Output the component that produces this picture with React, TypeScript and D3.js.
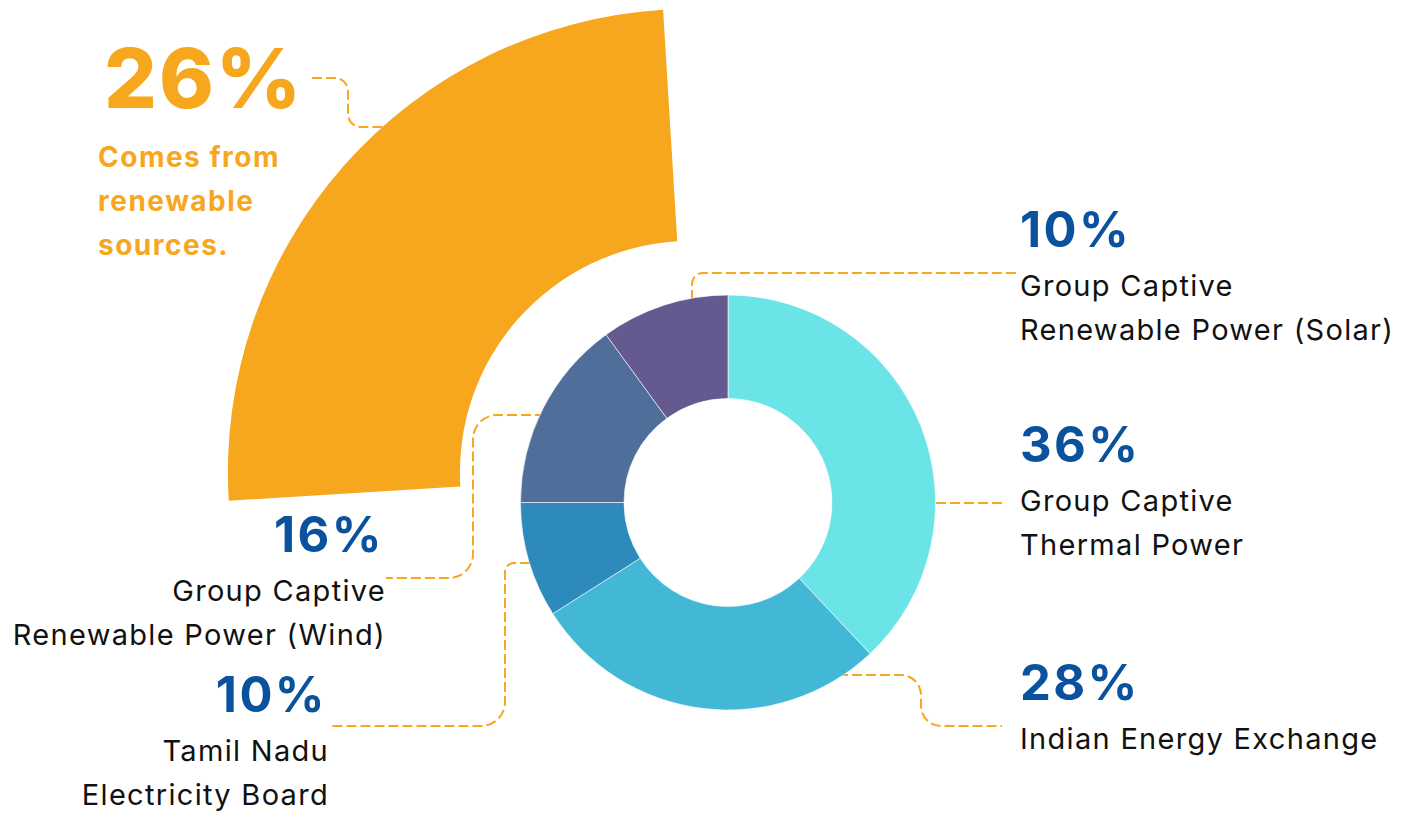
import React, { useEffect, useRef } from "react";
import * as d3 from "d3";

const sources = [
  "Group Captive Thermal Power",
  "Indian Energy Exchange",
  "Tamil Nadu Electricity Board",
  "Group Captive Renewable Power (Wind)",
  "Group Captive Renewable Power (Solar)",
];
const sliceValues = [38, 28, 9, 15, 10];
const shareLabels = ["36%", "28%", "10%", "16%", "10%"];
const sliceColors = ["#6be4e8", "#43b7d6", "#2d8aba", "#4f6e99", "#645a8f"];

// the renewable arc behind the donut
const renewableValues = [25, 75];
const renewableLabel = "26%";
const renewableText = ["Comes from", "renewable", "sources."];

// label text lines, same order as sources
const labelLines = [
  ["Group Captive", "Thermal Power"],
  ["Indian Energy Exchange"],
  ["Tamil Nadu", "Electricity Board"],
  ["Group Captive", "Renewable Power (Wind)"],
  ["Group Captive", "Renewable Power (Solar)"],
];

const W = 1416;
const H = 813;
const ORANGE = "#f7a71e";
const BLUE = "#0b529e";

// label placement: x, anchor, baseline of the percentage
const labelPos = [
  { x: 1020, y: 462, anchor: "start" },
  { x: 1020, y: 700, anchor: "start" },
  { x: 327, y: 712, anchor: "end" },
  { x: 384, y: 552, anchor: "end" },
  { x: 1020, y: 247, anchor: "start" },
];

// leader routes (corner points + corner radius)
const leaders = [
  { pts: [[936, 503], [1002, 503]], r: [] },
  { pts: [[838, 675], [921, 675], [921, 726], [1002, 726]], r: [20, 20] },
  { pts: [[530, 563], [505, 563], [505, 726], [330, 726]], r: [9, 24] },
  { pts: [[545, 415], [473, 415], [473, 578], [386, 578]], r: [24, 24] },
  { pts: [[692, 300], [692, 273], [1016, 273]], r: [11] },
  { pts: [[312, 78], [348, 78], [348, 127], [395, 127]], r: [13, 13] },
];

function leaderPath(pts: number[][], r: number[]) {
  const p = d3.path();
  p.moveTo(pts[0][0], pts[0][1]);
  for (let i = 1; i < pts.length - 1; i++) {
    p.arcTo(pts[i][0], pts[i][1], pts[i + 1][0], pts[i + 1][1], r[i - 1]);
  }
  const last = pts[pts.length - 1];
  p.lineTo(last[0], last[1]);
  return p.toString();
}

const App = () => {
  const ref = useRef<SVGSVGElement>(null);

  useEffect(() => {
    const svg = d3.select(ref.current);
    svg.selectAll("*").remove();

    // dashed leader lines go underneath the shapes
    svg
      .append("g")
      .selectAll("path")
      .data(leaders)
      .enter()
      .append("path")
      .attr("d", (d) => leaderPath(d.pts, d.r))
      .attr("fill", "none")
      .attr("stroke", ORANGE)
      .attr("stroke-width", 2)
      .attr("stroke-dasharray", "10 4");

    // big renewable arc
    const rad = Math.PI / 180;
    const rPie = d3
      .pie<number>()
      .sort(null)
      .value((d) => d)
      .startAngle(-93.5 * rad)
      .endAngle(-93.5 * rad + 2 * Math.PI);
    const rArc = d3.arc<d3.PieArcDatum<number>>().innerRadius(231.5).outerRadius(463.5);
    svg
      .append("g")
      .attr("transform", "translate(691.4,472.4)")
      .append("path")
      .attr("d", rArc(rPie(renewableValues)[0]))
      .attr("fill", ORANGE);

    // donut
    const pie = d3
      .pie<number>()
      .sort(null)
      .value((d) => d);
    const arc = d3.arc<d3.PieArcDatum<number>>().innerRadius(104).outerRadius(207.5);
    svg
      .append("g")
      .attr("transform", "translate(728,502.5)")
      .selectAll("path")
      .data(pie(sliceValues))
      .enter()
      .append("path")
      .attr("d", arc)
      .attr("fill", (d, i) => sliceColors[i])
      .attr("stroke", "#ffffff")
      .attr("stroke-width", 0.6);

    // donut labels
    const labels = svg
      .append("g")
      .selectAll("g")
      .data(sources)
      .enter()
      .append("g")
      .attr("text-anchor", (d, i) => labelPos[i].anchor);

    labels
      .append("text")
      .attr("x", (d, i) => labelPos[i].x)
      .attr("y", (d, i) => labelPos[i].y)
      .attr("fill", BLUE)
      .style("font-family", "Inter, sans-serif")
      .style("font-weight", 700)
      .style("font-size", "49px")
      .style("letter-spacing", "2.4px")
      .text((d, i) => shareLabels[i]);

    labels.each(function (d, i) {
      const g = d3.select(this);
      labelLines[i].forEach((line, j) => {
        g.append("text")
          .attr("x", labelPos[i].x + (labelPos[i].anchor === "end" ? 2 : 0))
          .attr("y", labelPos[i].y + 49 + j * 44)
          .attr("fill", "#111111")
          .style("font-family", "Inter, sans-serif")
          .style("font-size", "29px")
          .style("letter-spacing", "1.3px")
          .text(line);
      });
    });

    // renewable label
    svg
      .append("text")
      .attr("x", 104)
      .attr("y", 108)
      .attr("fill", ORANGE)
      .style("font-family", "Inter, sans-serif")
      .style("font-weight", 800)
      .style("font-size", "83px")
      .style("letter-spacing", "2px")
      .text(renewableLabel);

    svg
      .append("g")
      .selectAll("text")
      .data(renewableText)
      .enter()
      .append("text")
      .attr("x", 98)
      .attr("y", (d, i) => 167 + i * 44)
      .attr("fill", ORANGE)
      .style("font-family", "Inter, sans-serif")
      .style("font-weight", 700)
      .style("font-size", "28px")
      .style("letter-spacing", "1.5px")
      .text((d) => d);
  }, []);

  return (
    <svg
      ref={ref}
      width={W}
      height={H}
      style={{ position: "absolute", left: 0, top: 0, background: "#ffffff" }}
    ></svg>
  );
};

export default App;
